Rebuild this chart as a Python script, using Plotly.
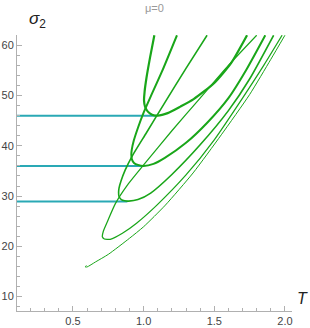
import plotly.graph_objects as go

# ---- data ----
cyan_levels = [46.0, 36.0, 28.9]
cyan_T_end = [1.09, 0.99, 0.885]
T_start = 0.104

curveA_T = [1.076, 1.045, 1.020, 1.007, 1.003, 1.010, 1.030, 1.060, 1.100, 1.17, 1.26, 1.354, 1.50, 1.62, 1.732]
curveA_s = [62.0, 57.5, 53.5, 50.8, 49.0, 47.8, 46.8, 46.2, 46.0, 46.5, 47.8, 49.3, 52.5, 56.5, 62.0]

curveB_T = [1.236, 1.13, 1.05, 1.00, 0.96, 0.93, 0.916, 0.913, 0.917, 0.932, 0.960, 1.00, 1.07, 1.15, 1.30, 1.45, 1.60, 1.73, 1.861]
curveB_s = [62.0, 54.8, 49.8, 46.6, 43.6, 41.0, 39.2, 38.3, 37.3, 36.6, 36.2, 36.0, 36.4, 37.6, 40.6, 44.6, 49.5, 55.3, 62.0]

curveC_T = [1.449, 1.30, 1.15, 1.02, 0.92, 0.87, 0.840, 0.826, 0.823, 0.826, 0.842, 0.866, 0.894, 0.96, 1.05, 1.20, 1.40, 1.60, 1.75, 1.92]
curveC_s = [62.0, 55.4, 48.6, 42.6, 38.0, 35.2, 33.0, 31.6, 30.8, 29.9, 29.3, 29.05, 29.0, 29.3, 30.6, 34.3, 40.2, 47.0, 53.3, 62.0]

curveD_T = [1.80, 1.60, 1.40, 1.20, 1.00, 0.88, 0.80, 0.745, 0.715, 0.708, 0.722, 0.745, 0.764, 0.85, 0.95, 1.094, 1.30, 1.50, 1.70, 1.85, 1.98]
curveD_s = [62.0, 56.0, 49.5, 43.0, 36.2, 32.0, 28.5, 25.0, 23.0, 21.9, 21.45, 21.4, 21.4, 22.6, 24.6, 28.2, 34.2, 41.2, 49.5, 56.0, 62.0]

curveE_T = [0.595, 0.587, 0.600, 0.66, 0.75, 0.90, 1.00, 1.154, 1.35, 1.55, 1.75, 1.90, 2.00]
curveE_s = [16.2, 15.9, 15.9, 16.9, 18.4, 21.6, 23.9, 28.2, 34.6, 42.2, 50.2, 57.2, 62.0]

curves = [
    (curveA_T, curveA_s, 2.2),
    (curveB_T, curveB_s, 2.0),
    (curveC_T, curveC_s, 1.6),
    (curveD_T, curveD_s, 1.25),
    (curveE_T, curveE_s, 1.0),
]

x_ticks = [0.5, 1.0, 1.5, 2.0]
x_ticklabels = ["0.5", "1.0", "1.5", "2.0"]
y_ticks = [10, 20, 30, 40, 50, 60]

green = "#19a619"
cyan = "#2aa9b5"

fig = go.Figure()
for lvl, te in zip(cyan_levels, cyan_T_end):
    fig.add_trace(go.Scatter(x=[T_start, te], y=[lvl, lvl], mode="lines",
                             line=dict(color=cyan, width=2), hoverinfo="skip"))
for xs, ys, w in curves:
    fig.add_trace(go.Scatter(x=xs, y=ys, mode="lines",
                             line=dict(color=green, width=w, shape="spline", smoothing=0.6),
                             hoverinfo="skip"))

axis_common = dict(showgrid=False, zeroline=False, showline=True, linecolor="#b0b0b0",
                   linewidth=1, ticks="inside", ticklen=5, tickcolor="#b0b0b0",
                   automargin=False,
                   tickfont=dict(family="Liberation Sans, Arial", size=11, color="#444444"))
fig.update_xaxes(range=[0.104, 2.05], tickvals=x_ticks, ticktext=x_ticklabels,
                 minor=dict(dtick=0.1, ticks="inside", ticklen=3, tickcolor="#b0b0b0"),
                 **axis_common)
fig.update_yaxes(range=[7.13, 62.05], tickvals=y_ticks,
                 minor=dict(dtick=2, ticks="inside", ticklen=3, tickcolor="#b0b0b0"),
                 **axis_common)

fig.update_layout(
    width=310, height=328, showlegend=False,
    margin=dict(l=17, r=18, t=35, b=17),
    plot_bgcolor="white", paper_bgcolor="white",
    annotations=[
        dict(text="μ=0", x=0.5, y=1.098, xref="paper", yref="paper", yanchor="middle",
             xanchor="center", showarrow=False,
             font=dict(family="Liberation Sans, Arial", size=11, color="#999999")),
        dict(text="<i>σ</i><sub>2</sub>", x=0.036, y=1.0, xref="paper", yref="paper",
             xanchor="left", yanchor="bottom", showarrow=False, yshift=2,
             font=dict(family="Liberation Sans, Arial", size=17, color="#222222")),
        dict(text="<i>T</i>", x=1.0, y=0.045, xref="paper", yref="paper",
             xanchor="left", yanchor="middle", showarrow=False, xshift=3,
             font=dict(family="Liberation Sans, Arial", size=16, color="#222222")),
    ],
)
fig.write_html("out.html", config={"displayModeBar": False},
               post_script="document.body.style.margin='0';document.body.style.overflow='hidden';")
